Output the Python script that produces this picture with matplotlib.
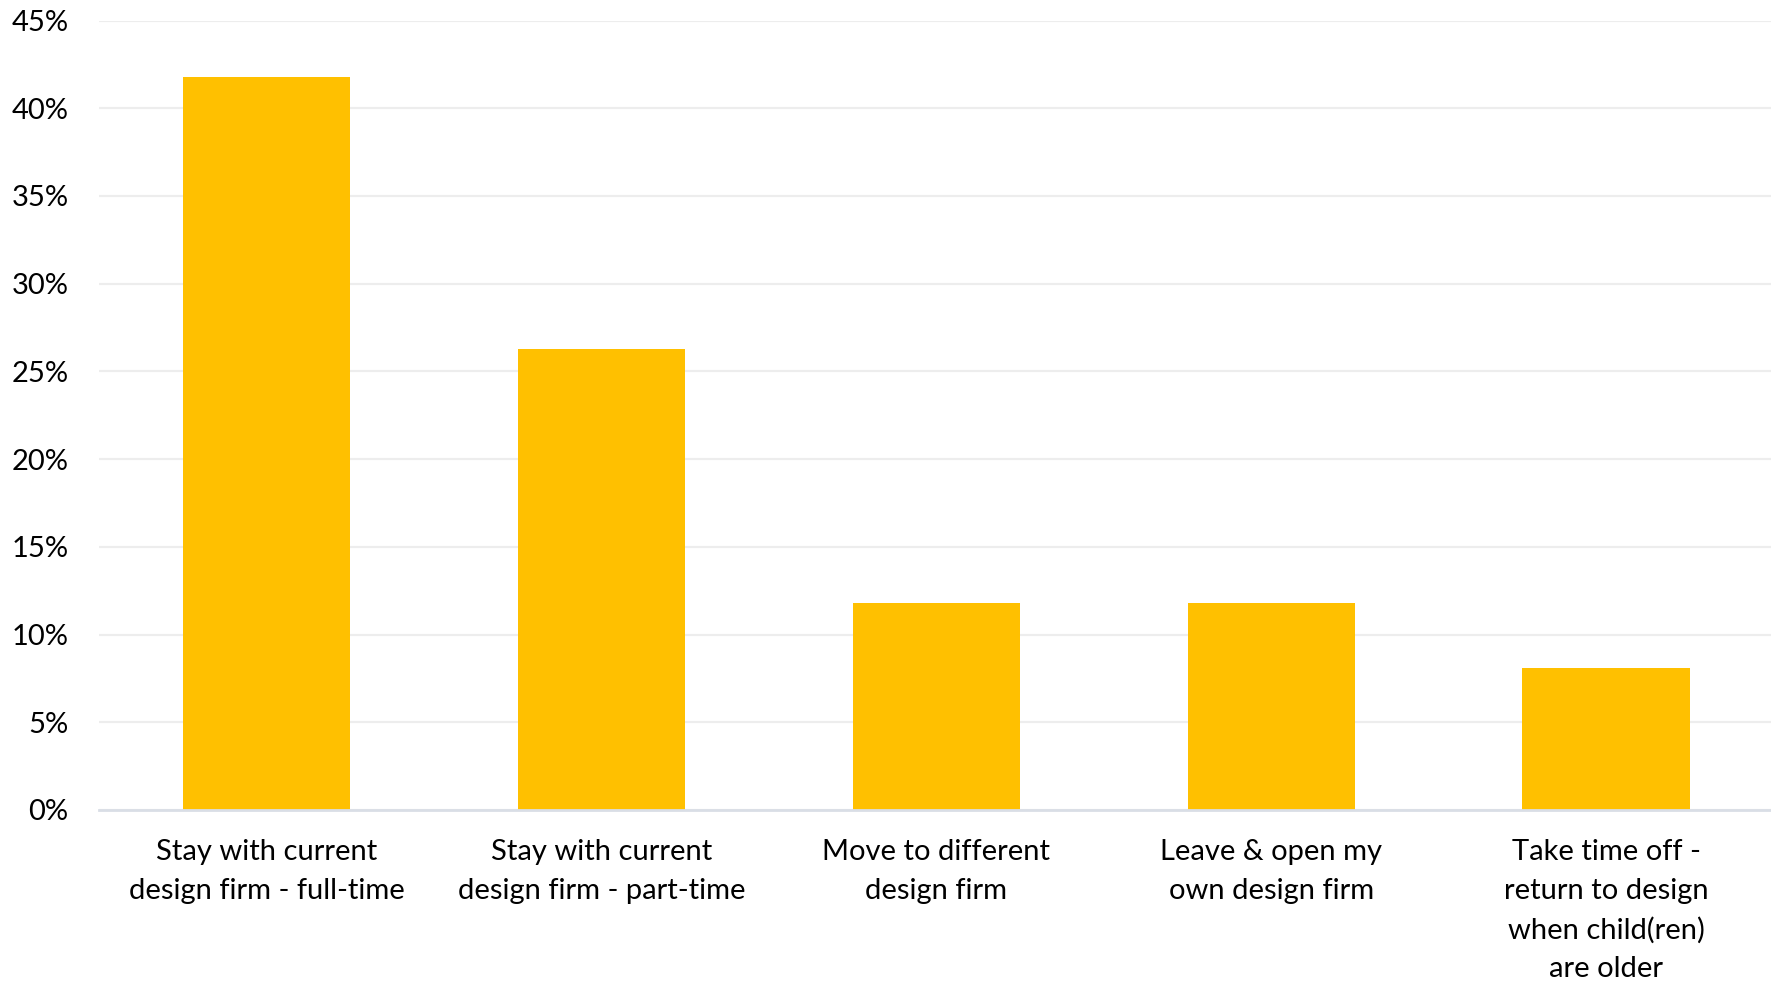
import matplotlib.pyplot as plt
from matplotlib.ticker import FuncFormatter

plt.rcParams['font.family'] = ['Lato', 'DejaVu Sans']

# --- data ---
categories = [
    "Stay with current\ndesign firm - full-time",
    "Stay with current\ndesign firm - part-time",
    "Move to different\ndesign firm",
    "Leave & open my\nown design firm",
    "Take time off -\nreturn to design\nwhen child(ren)\nare older",
]
shares = [0.418, 0.263, 0.118, 0.118, 0.081]
y_ticks = [0.0, 0.05, 0.10, 0.15, 0.20, 0.25, 0.30, 0.35, 0.40, 0.45]

fig = plt.figure(figsize=(17.71, 9.82), dpi=100)
# right edge of the plot area runs slightly past the image edge
ax = fig.add_axes([0.0560, 0.1752, 0.9455, 0.8039])

x = range(len(categories))
ax.bar(x, shares, width=0.5, color='#FFC000', zorder=3)

ax.set_xlim(-0.5, len(categories) - 0.5)
ax.set_ylim(0, 0.45)
ax.set_yticks(y_ticks)
ax.yaxis.set_major_formatter(FuncFormatter(lambda v, _: f"{v * 100:.0f}%"))
ax.set_xticks(list(x))
ax.set_xticklabels(categories, fontsize=21, linespacing=1.59)

ax.grid(axis='y', color='#EDEDED', linewidth=1.6, zorder=0)
ax.tick_params(axis='y', length=0, pad=22, labelsize=21)
ax.tick_params(axis='x', length=0, pad=21)

for side in ['top', 'right', 'left']:
    ax.spines[side].set_visible(False)
ax.spines['bottom'].set_color('#D9DEE6')
ax.spines['bottom'].set_linewidth(2)
ax.spines['bottom'].set_zorder(4)

fig.savefig('out.png', dpi=100)
